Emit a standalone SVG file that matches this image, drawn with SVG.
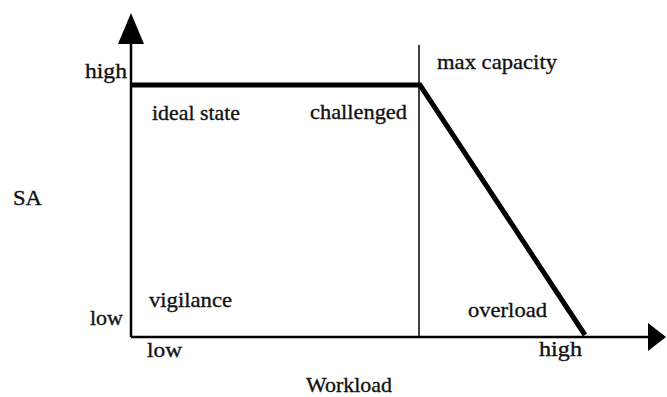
<svg xmlns="http://www.w3.org/2000/svg" width="667" height="397" viewBox="0 0 667 397">
  <style>
    .lbl { font-family: "Liberation Serif", "Times New Roman", serif; font-size: 22px; fill: #111; stroke: #111; stroke-width: 0.35; }
    .axis { stroke: #000; stroke-width: 2.5; fill: none; }
    .thin { stroke: #000; stroke-width: 1.5; fill: none; }
    .curve { stroke: #000; stroke-width: 5; fill: none; stroke-linejoin: miter; stroke-linecap: butt; }
  </style>
  <rect width="667" height="397" fill="#fff"/>

  <g id="axes">
    <line class="axis" x1="131" y1="42" x2="131" y2="337"/>
    <line class="axis" x1="131" y1="337" x2="650" y2="337"/>
    <polygon points="131,13 118,44 144,44" fill="#000"/>
    <polygon points="666,337 648,323 648,351" fill="#000"/>
  </g>

  <g id="connectors">
    <!-- max capacity marker -->
    <line class="thin" x1="419" y1="45" x2="419" y2="337"/>
    <!-- SA vs workload profile -->
    <polyline class="curve" points="131,85 420,85 585,335"/>
  </g>

  <g id="axis-labels">
    <text class="lbl" x="13" y="205" textLength="29" lengthAdjust="spacingAndGlyphs">SA</text>
    <text class="lbl" x="85" y="78" textLength="42" lengthAdjust="spacingAndGlyphs">high</text>
    <text class="lbl" x="90" y="325" textLength="33" lengthAdjust="spacingAndGlyphs">low</text>
    <text class="lbl" x="147" y="357" textLength="35" lengthAdjust="spacingAndGlyphs">low</text>
    <text class="lbl" x="539" y="356" textLength="43" lengthAdjust="spacingAndGlyphs">high</text>
    <text class="lbl" x="306" y="392" textLength="86" lengthAdjust="spacingAndGlyphs">Workload</text>
  </g>

  <g id="region-ideal">
    <text class="lbl" x="152" y="120" textLength="88" lengthAdjust="spacingAndGlyphs">ideal state</text>
  </g>
  <g id="region-challenged">
    <text class="lbl" x="310" y="119" textLength="97" lengthAdjust="spacingAndGlyphs">challenged</text>
  </g>
  <g id="region-max">
    <text class="lbl" x="437" y="69" textLength="120" lengthAdjust="spacingAndGlyphs">max capacity</text>
  </g>
  <g id="region-vigilance">
    <text class="lbl" x="149" y="307" textLength="83" lengthAdjust="spacingAndGlyphs">vigilance</text>
  </g>
  <g id="region-overload">
    <text class="lbl" x="468" y="317" textLength="79" lengthAdjust="spacingAndGlyphs">overload</text>
  </g>
</svg>
